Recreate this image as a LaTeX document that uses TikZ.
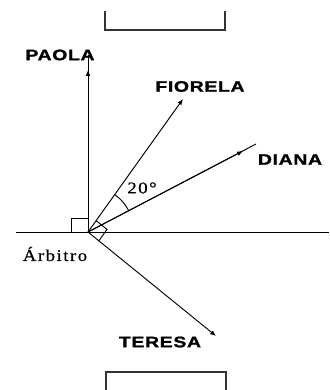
\documentclass[tikz,border=0pt]{standalone}
\usepackage{fontspec}
\setmainfont{Liberation Serif}
\newfontfamily\playerfont[FakeStretch=1.28,LetterSpace=4,FakeBold=1.2]{Liberation Sans}
\newfontfamily\refereefont[FakeStretch=1.15,LetterSpace=9,FakeBold=0.6]{Liberation Serif}
\usetikzlibrary{arrows.meta, positioning}

\begin{document}
\begin{tikzpicture}[
    x=0.03cm, y=0.03cm,
    player/.style={inner sep=0pt, font={\fontsize{13}{15}\playerfont\bfseries}},
    plain/.style={inner sep=0pt, font={\fontsize{14}{16}\refereefont}},
    line/.style={line width=0.8pt, black},
    tip/.style={line width=0.8pt, -{Latex[length=5pt,width=4pt]}},
    goal/.style={line width=1.1pt, black!80}
]
\useasboundingbox (0,0) rectangle (329,390);

% goals
\draw[goal] (105,379) -- (105,360) -- (225,360) -- (225,379);
\draw[goal] (106,0) -- (106,18) -- (226,18) -- (226,0);

\coordinate (arb)   at (88,158);
\coordinate (west)  at (16,158);
\coordinate (east)  at (329,158);
\coordinate (pEnd)  at (88,335);
\coordinate (pTip)  at (88,320);
\coordinate (fTip)  at (183,291);
\coordinate (dEnd)  at (256,246);
\coordinate (dTip)  at (243,239);
\coordinate (tTip)  at (216,54);

\node[player] (paola)   at (60,335)    {PAOLA};
\node[player] (fiorela) at (200,303.5) {FIORELA};
\node[player] (diana)   at (290,230.5) {DIANA};
\node[player] (teresa)  at (160,48)    {TERESA};
\node[plain]  (arbitro) at (55,136)    {Árbitro};
\node[plain]  (ang)     at (142,202)   {20°};

\draw[line] (west) -- (east);
\draw[line] (arb) -- (pEnd);
\draw[line] (arb) -- (dEnd);
\foreach \t in {pTip, fTip, dTip, tTip}
    \draw[tip] (arb) -- (\t);

% angle marks
\draw[line] (71,158) -- (71,172) -- (88,172);
\draw[line] (98.9,149.2) -- (107.0,160.6) -- (96.1,169.4);
\draw[line] (arb) ++(27.6:46) arc[start angle=27.6, end angle=54.5, radius=46];
\end{tikzpicture}
\end{document}
